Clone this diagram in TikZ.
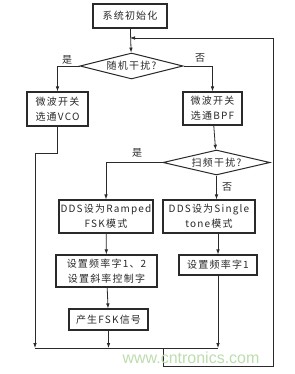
\documentclass[tikz,border=0pt]{standalone}
\usepackage{fontspec}
\setmainfont{Noto Sans CJK SC}[LetterSpace=12]
\newfontfamily\wmfont{Liberation Sans}
\usetikzlibrary{shapes.geometric,arrows.meta}
\definecolor{ink}{HTML}{2A2A2A}
\definecolor{wm}{HTML}{BEDDAE}
\begin{document}
\begin{tikzpicture}[x=1pt,y=-1pt,
  every node/.style={font=\fontsize{10}{15}\selectfont, text=ink},
  pbox/.style={draw=ink, line width=1.1pt, rectangle, inner sep=0pt, align=center},
  dec/.style={draw=ink, line width=1pt, diamond, aspect=4, inner sep=0pt},
  conn/.style={draw=ink, line width=0.8pt},
  arr/.style={conn, -{Latex[length=5pt,width=3.6pt]}},
  lbl/.style={inner sep=0pt}
]
\useasboundingbox (0,0) rectangle (294,374);
\fill[white] (0,0) rectangle (294,374);
% nodes
\node[pbox, minimum width=74, minimum height=24] (init) at (130,16) {系统初始化};
\node[dec, minimum width=103, minimum height=26] (d1) at (131.5,66) {随机干扰?};
\node[pbox, minimum width=61, minimum height=34] (vco) at (57.5,109) {微波开关\\选通VCO};
\node[pbox, minimum width=59, minimum height=33] (bpf) at (212.5,108.5) {微波开关\\选通BPF};
\node[dec, minimum width=107, minimum height=25] (d2) at (216.5,162.5) {扫频干扰?};
\node[pbox, minimum width=94, minimum height=33] (ramp) at (106,216.5) {DDS设为Ramped\\FSK模式};
\node[pbox, minimum width=92, minimum height=33] (single) at (209,216.5) {DDS设为Single\\tone模式};
\node[pbox, minimum width=101, minimum height=32] (f12) at (106.5,271) {设置频率字1、2\\设置斜率控制字};
\node[pbox, minimum width=78, minimum height=20] (f1) at (218,265) {设置频率字1};
\node[pbox, minimum width=79, minimum height=21] (fsk) at (108.5,319.5) {产生FSK信号};
% labels
\node[lbl] (y1) at (67,60) {是};
\node[lbl] (n1) at (200,58) {否};
\node[lbl] (y2) at (137,153) {是};
\node[lbl] (n2) at (227,187) {否};
% coordinates
\coordinate (bl) at (35,348);
\coordinate (bm) at (163,348);
\coordinate (fskb) at (fsk.south |- bl);
\coordinate (f1b) at (f1.south |- bl);
\coordinate (vcok) at (57.5,153);
\coordinate (lpb) at (163,366);
\coordinate (lpr) at (273,366);
\coordinate (lpt) at (273,38);
\coordinate (lpin) at (130,38);
% connectors
\draw[arr] (init) -- (d1);
\draw[arr] (d1.west) -| (vco.north);
\draw[arr] (d1.east) -| (bpf.north);
\draw[arr] (bpf) -- (d2);
\draw[arr] (d2.west) -| (ramp.north);
\draw[arr] (d2.south) -- (d2.south |- single.north);
\draw[arr] (ramp) -- (f12);
\draw[arr] (single.south -| f1.north) -- (f1.north);
\draw[arr] (f12) -- (fsk);
\draw[arr] (fsk.south) -- (fskb);
\draw[arr] (f1.south) -- (f1b);
\draw[arr] (vco.south) -- (vcok) -| (bl);
\draw[conn] (bl) -- (f1b);
\draw[arr] (bm) -- (lpb) -- (lpr) -- (lpt) -- (lpin);
% watermark
\node[font=\wmfont\fontsize{16}{16}\selectfont, text=wm, inner sep=0pt] (wmk) at (191,358) {www.cntronics.com};
\end{tikzpicture}
\end{document}
